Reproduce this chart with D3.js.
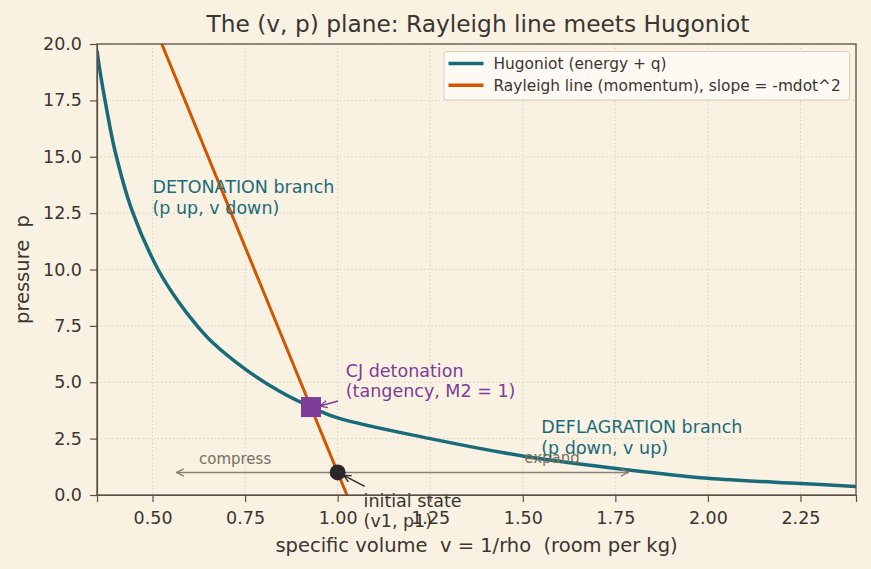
<html>
<head>
  <meta charset="utf-8">
  <script src="https://cdn.jsdelivr.net/npm/d3@7"></script>
  <style>
    body { margin: 0; background: #f9f2e3; }
    svg text { font-family: "DejaVu Sans", sans-serif; white-space: pre; }
    .grid line { stroke: #cfc6b8; stroke-width: 0.9; stroke-dasharray: 1.2, 2.6; }
    .axis path, .axis line { stroke: #5a4f45; stroke-width: 1.2; }
    .axis text { fill: #3b3530; font-size: 17.5px; font-family: "DejaVu Sans", sans-serif; }
  </style>
</head>
<body>
  <div id="chart"></div>
  <script>
    // hugoniot curve
    var hugV = [0.35, 0.36, 0.375, 0.398, 0.445, 0.515, 0.573, 0.618, 0.663, 0.753, 0.843, 0.928, 1.00, 1.25, 1.50, 1.78, 2.00, 2.25, 2.40];
    var hugP = [19.7, 18.6, 17.2, 15.3, 12.6, 10.0, 8.5, 7.55, 6.75, 5.55, 4.6, 3.9, 3.42, 2.5, 1.73, 1.12, 0.74, 0.51, 0.38];

    // rayleigh line through the initial state
    var rayV = [0.525, 1.025];
    var rayP = [20, 0];

    var cjPoint = [0.928, 3.9];
    var initPoint = [1.0, 1.0];
    var compressTo = 0.565, expandTo = 1.785;

    var xTicks = [0.50, 0.75, 1.00, 1.25, 1.50, 1.75, 2.00, 2.25];
    var yTicks = [0, 2.5, 5, 7.5, 10, 12.5, 15, 17.5, 20];

    var width = 871, height = 569;
    var margin = {top: 44, right: 15, bottom: 74, left: 97};
    var w = width - margin.left - margin.right,
      h = height - margin.top - margin.bottom;

    var tealCol = "#1a6b7a", orangeCol = "#d35400", purpleCol = "#7d3c98",
      darkCol = "#2b2627", textCol = "#3b3530", arrowCol = "#8a8276", softText = "#77705f";

    var svg = d3.select("#chart").append("svg")
      .attr("width", width)
      .attr("height", height);

    svg.append("defs").append("clipPath").attr("id", "clip")
      .append("rect").attr("width", w).attr("height", h);

    function marker(id, col) {
      svg.select("defs").append("marker")
        .attr("id", id)
        .attr("viewBox", "0 0 10 10")
        .attr("refX", 9).attr("refY", 5)
        .attr("markerWidth", 9).attr("markerHeight", 9)
        .attr("markerUnits", "userSpaceOnUse")
        .attr("orient", "auto")
        .append("path")
        .attr("d", "M1,1 L9,5 L1,9")
        .attr("fill", "none")
        .attr("stroke", col)
        .attr("stroke-width", 1.5);
    }
    marker("arrGray", arrowCol);
    marker("arrPurple", purpleCol);
    marker("arrDark", darkCol);

    var g = svg.append("g").attr("transform", "translate(" + margin.left + "," + margin.top + ")");

    var x = d3.scaleLinear().domain([0.35, 2.4]).range([0, w]);
    var y = d3.scaleLinear().domain([0, 20]).range([h, 0]);

    // grid
    g.append("g").attr("class", "grid")
      .selectAll("line").data(xTicks).enter().append("line")
      .attr("x1", d => x(d)).attr("x2", d => x(d))
      .attr("y1", 0).attr("y2", h);
    g.append("g").attr("class", "grid")
      .selectAll("line").data(yTicks).enter().append("line")
      .attr("x1", 0).attr("x2", w)
      .attr("y1", d => y(d)).attr("y2", d => y(d));

    var plot = g.append("g").attr("clip-path", "url(#clip)");

    var line = d3.line()
      .x(d => x(d[0])).y(d => y(d[1]))
      .curve(d3.curveCatmullRom.alpha(0.5));

    plot.append("path")
      .datum(hugV.map((v, i) => [v, hugP[i]]))
      .attr("d", line)
      .attr("fill", "none")
      .attr("stroke", tealCol)
      .attr("stroke-width", 3.5);

    plot.append("path")
      .datum(rayV.map((v, i) => [v, rayP[i]]))
      .attr("d", d3.line().x(d => x(d[0])).y(d => y(d[1])))
      .attr("fill", "none")
      .attr("stroke", orangeCol)
      .attr("stroke-width", 3);

    // compress / expand arrows
    g.append("line")
      .attr("x1", x(initPoint[0])).attr("y1", y(initPoint[1]))
      .attr("x2", x(compressTo)).attr("y2", y(initPoint[1]))
      .attr("stroke", arrowCol).attr("stroke-width", 1.5)
      .attr("marker-end", "url(#arrGray)");
    g.append("line")
      .attr("x1", x(initPoint[0])).attr("y1", y(initPoint[1]))
      .attr("x2", x(expandTo)).attr("y2", y(initPoint[1]))
      .attr("stroke", arrowCol).attr("stroke-width", 1.5)
      .attr("marker-end", "url(#arrGray)");

    g.append("text").attr("x", x(0.723)).attr("y", y(initPoint[1]) - 8)
      .attr("text-anchor", "middle").attr("fill", softText).attr("font-size", 15)
      .text("compress");
    g.append("text").attr("x", x(1.579)).attr("y", y(initPoint[1]) - 9)
      .attr("text-anchor", "middle").attr("fill", softText).attr("font-size", 15)
      .text("expand");

    // cj marker
    var cjx = x(cjPoint[0]), cjy = y(cjPoint[1]);
    g.append("rect")
      .attr("x", cjx - 10).attr("y", cjy - 10)
      .attr("width", 20).attr("height", 20)
      .attr("fill", purpleCol);
    g.append("line")
      .attr("x1", cjx + 27).attr("y1", cjy - 6)
      .attr("x2", cjx + 9).attr("y2", cjy - 1)
      .attr("stroke", purpleCol).attr("stroke-width", 1.5)
      .attr("marker-end", "url(#arrPurple)");

    // initial state
    var ix = x(initPoint[0]), iy = y(initPoint[1]);
    g.append("circle").attr("cx", ix).attr("cy", iy).attr("r", 8).attr("fill", darkCol);
    g.append("line")
      .attr("x1", ix + 27).attr("y1", iy + 14)
      .attr("x2", ix + 6).attr("y2", iy + 3)
      .attr("stroke", darkCol).attr("stroke-width", 1.5)
      .attr("marker-end", "url(#arrDark)");

    function label(v, p, lines, col) {
      var t = g.append("text").attr("fill", col).attr("font-size", 17.5);
      lines.forEach(function (s, i) {
        t.append("tspan").attr("x", x(v)).attr("y", y(p) + i * 20.5).text(s);
      });
    }
    label(0.5, 13.38, ["DETONATION branch", "(p up, v down)"], tealCol);
    label(1.022, 5.25, ["CJ detonation", "(tangency, M2 = 1)"], purpleCol);
    label(1.55, 2.74, ["DEFLAGRATION branch", "(p down, v up)"], tealCol);
    label(1.07, -0.52, ["initial state", "(v1, p1)"], textCol);

    // axes
    g.append("g").attr("class", "axis")
      .attr("transform", "translate(0," + h + ")")
      .call(d3.axisBottom(x).tickValues(xTicks).tickFormat(d3.format(".2f")).tickSizeOuter(0).tickSize(7).tickPadding(10));
    g.append("g").attr("class", "axis")
      .call(d3.axisLeft(y).tickValues(yTicks).tickFormat(d3.format(".1f")).tickSizeOuter(0).tickSize(7).tickPadding(8));

    // frame
    g.append("rect").attr("width", w).attr("height", h)
      .attr("fill", "none").attr("stroke", "#5a4f45").attr("stroke-width", 1.3);

    // titles
    svg.append("text").attr("x", 478).attr("y", 32)
      .attr("text-anchor", "middle").attr("fill", textCol).attr("font-size", 23.3)
      .text("The (v, p) plane: Rayleigh line meets Hugoniot");
    svg.append("text").attr("x", margin.left + w / 2).attr("y", 552)
      .attr("text-anchor", "middle").attr("fill", textCol).attr("font-size", 19.5)
      .text("specific volume  v = 1/rho  (room per kg)");
    svg.append("text")
      .attr("transform", "translate(29," + (margin.top + h / 2) + ") rotate(-90)")
      .attr("text-anchor", "middle").attr("fill", textCol).attr("font-size", 19.5)
      .text("pressure  p");

    // legend
    var legend = svg.append("g").attr("transform", "translate(444,51.5)");
    legend.append("rect").attr("width", 405.5).attr("height", 48.5).attr("rx", 3)
      .attr("fill", "#fdfaf3").attr("stroke", "#d6cec2");
    var legItems = [["Hugoniot (energy + q)", tealCol], ["Rayleigh line (momentum), slope = -mdot^2", orangeCol]];
    legItems.forEach(function (d, i) {
      var ly = 12 + i * 21.7;
      legend.append("line").attr("x1", 4.5).attr("x2", 39.5).attr("y1", ly).attr("y2", ly)
        .attr("stroke", d[1]).attr("stroke-width", 3.5);
      legend.append("text").attr("x", 49.5).attr("y", ly + 5.5)
        .attr("fill", textCol).attr("font-size", 15.4).text(d[0]);
    });
  </script>
</body>
</html>
